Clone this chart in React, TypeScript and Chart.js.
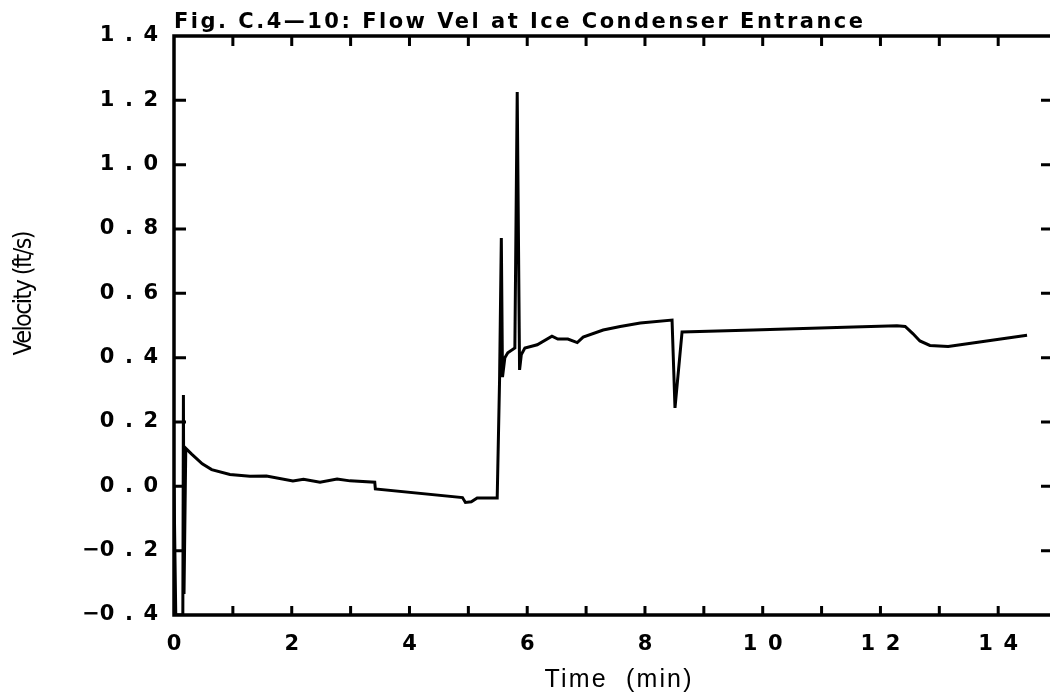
import { useEffect, useRef } from "react";
import { Chart, registerables } from "chart.js";

Chart.register(...registerables);

const TITLE = "Fig. C.4—10: Flow Vel at Ice Condenser Entrance";
const X_TITLE = "Time  (min)";
const Y_TITLE = "Velocity (ft/s)";

const X_MIN = 0;
const X_MAX = 14.88;
const X_STEP = 1;
const Y_MIN = -0.4;
const Y_MAX = 1.4;
const Y_STEP = 0.2;

const timeMin = [
  0.0, 0.03, 0.15, 0.16, 0.17, 0.2, 0.3, 0.48, 0.64, 0.95, 1.29, 1.57, 2.02,
  2.2, 2.48, 2.77, 2.99, 3.41, 3.42, 4.9, 4.95, 5.05, 5.15, 5.49, 5.53, 5.56,
  5.58, 5.62, 5.67, 5.79, 5.83, 5.87, 5.9, 5.96, 6.17, 6.42, 6.52, 6.69, 6.85,
  6.95, 7.29, 7.58, 7.92, 8.46, 8.51, 8.63, 9.84, 11.54, 12.28, 12.42, 12.55,
  12.67, 12.84, 13.15, 14.49,
];

const velocity = [
  0.0, -0.4, -0.4, 0.284, -0.335, 0.118, 0.1, 0.07, 0.052, 0.037, 0.031,
  0.032, 0.017, 0.022, 0.013, 0.023, 0.017, 0.013, -0.008, -0.035, -0.05,
  -0.048, -0.036, -0.036, 0.33, 0.772, 0.34, 0.4, 0.415, 0.43, 1.226, 0.362,
  0.41, 0.43, 0.44, 0.467, 0.458, 0.458, 0.447, 0.464, 0.486, 0.497, 0.508,
  0.517, 0.244, 0.48, 0.486, 0.495, 0.499, 0.497, 0.475, 0.452, 0.438, 0.435,
  0.47,
];

const TICK_FONT = { family: '"DejaVu Sans", sans-serif', size: 21, weight: "bold" as const };
const GAP = "\u2002";

function drawSpaced(
  ctx: CanvasRenderingContext2D,
  text: string,
  x: number,
  y: number,
  width: number,
  align: "left" | "center"
) {
  const c = ctx as any;
  c.letterSpacing = "0px";
  const natural = ctx.measureText(text).width;
  const n = Array.from(text).length;
  const ls = n > 1 ? (width - natural) / (n - 1) : 0;
  c.letterSpacing = ls + "px";
  ctx.textAlign = "left";
  const start = align === "center" ? x - width / 2 : x;
  ctx.fillText(text, start, y);
  c.letterSpacing = "0px";
}

const framePlugin = {
  id: "frame",
  afterDraw(chart: any) {
    const { ctx, chartArea: a, scales } = chart;
    const xs = scales.x;
    const ys = scales.y;
    ctx.save();
    ctx.strokeStyle = "#000";
    ctx.lineCap = "butt";
    ctx.lineWidth = 3.5;
    ctx.beginPath();
    ctx.moveTo(a.left, a.top);
    ctx.lineTo(a.right, a.top);
    ctx.moveTo(a.left, a.top - 1.75);
    ctx.lineTo(a.left, a.bottom + 1.75);
    ctx.moveTo(a.left, a.bottom);
    ctx.lineTo(a.right, a.bottom);
    ctx.stroke();

    ctx.lineWidth = 3;
    ctx.beginPath();
    xs.ticks.forEach((tk: any) => {
      const v = tk.value;
      if (Math.abs(v - Math.round(v)) > 1e-6 || v <= X_MIN) return;
      const px = xs.getPixelForValue(v);
      ctx.moveTo(px, a.bottom);
      ctx.lineTo(px, a.bottom - 9);
      ctx.moveTo(px, a.top);
      ctx.lineTo(px, a.top + 10);
    });
    ys.ticks.forEach((tk: any) => {
      const v = tk.value;
      if (v <= Y_MIN + 1e-6 || v >= Y_MAX - 1e-6) return;
      const py = ys.getPixelForValue(v);
      ctx.moveTo(a.left, py);
      ctx.lineTo(a.left + 12, py);
      ctx.moveTo(a.right, py);
      ctx.lineTo(a.right - 9, py);
    });
    ctx.stroke();

    ctx.fillStyle = "#000";
    ctx.textBaseline = "alphabetic";
    ctx.font = 'bold 21px "DejaVu Sans", sans-serif';
    drawSpaced(ctx, TITLE, a.left, 28, 689, "left");

    ctx.font = '25px "Liberation Sans", Arial, sans-serif';
    drawSpaced(ctx, X_TITLE, 618, 687, 147, "center");

    ctx.save();
    ctx.translate(31, 293);
    ctx.rotate(-Math.PI / 2);
    ctx.font = '25px "Liberation Sans Narrow", "DejaVu Sans Condensed", "Liberation Sans", sans-serif';
    drawSpaced(ctx, Y_TITLE, 0, 0, 125, "center");
    ctx.restore();

    ctx.restore();
  },
};

export default function App() {
  const ref = useRef<HTMLCanvasElement>(null);

  useEffect(() => {
    const canvas = ref.current;
    if (!canvas) return;
    const chart = new Chart(canvas, {
      type: "line",
      data: {
        datasets: [
          {
            data: timeMin.map((t, i) => ({ x: t, y: velocity[i] })),
            borderColor: "#000",
            borderWidth: 3,
            pointRadius: 0,
            fill: false,
            tension: 0,
          },
        ],
      },
      options: {
        animation: false,
        responsive: false,
        maintainAspectRatio: false,
        layout: { padding: { top: 36, left: 0, right: 0, bottom: 0 } },
        plugins: {
          legend: { display: false },
          title: { display: false },
          tooltip: { enabled: false },
        },
        scales: {
          x: {
            type: "linear",
            min: X_MIN,
            max: X_MAX,
            border: { display: false },
            grid: { display: false, drawTicks: false },
            ticks: {
              stepSize: X_STEP,
              includeBounds: false,
              autoSkip: false,
              maxRotation: 0,
              padding: 17,
              color: "#000",
              font: TICK_FONT,
              callback: (v: any) => {
                const num = Number(v);
                const n = Math.round(num);
                if (Math.abs(num - n) > 1e-6 || n % 2 !== 0) return "";
                return String(n).split("").join(GAP);
              },
            },
            afterFit: (s: any) => {
              s.height = 85;
            },
          },
          y: {
            type: "linear",
            min: Y_MIN,
            max: Y_MAX,
            border: { display: false },
            grid: { display: false, drawTicks: false },
            ticks: {
              stepSize: Y_STEP,
              padding: 16,
              color: "#000",
              font: TICK_FONT,
              callback: (v: any) => {
                const n = Math.round(Number(v) * 10) / 10;
                const s = Math.abs(n).toFixed(1).split("").join(GAP);
                return (n < 0 ? "−" : "") + s;
              },
            },
            afterFit: (s: any) => {
              s.width = 174;
            },
          },
        },
      },
      plugins: [framePlugin],
    });
    return () => chart.destroy();
  }, []);

  return (
    <div
      style={{
        position: "fixed",
        left: 0,
        top: 0,
        width: 1050,
        height: 700,
        background: "#fff",
      }}
    >
      <canvas
        ref={ref}
        width={1050}
        height={700}
        style={{ display: "block", width: 1050, height: 700 }}
      />
    </div>
  );
}
